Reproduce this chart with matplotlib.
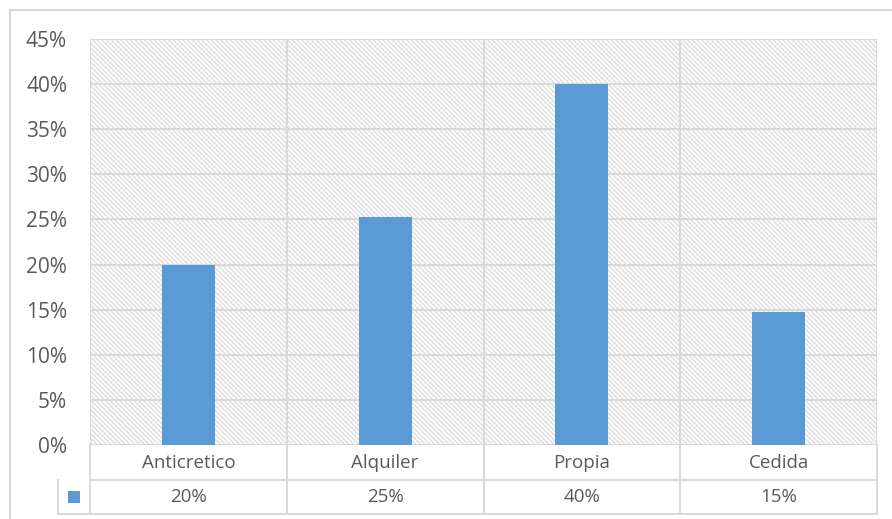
import matplotlib
matplotlib.use("Agg")
import matplotlib.pyplot as plt
from matplotlib.patches import Rectangle
from matplotlib.lines import Line2D

categories = ["Anticretico", "Alquiler", "Propia", "Cedida"]
values = [0.200, 0.253, 0.400, 0.147]
value_labels = ["20%", "25%", "40%", "15%"]
yticks = [0, 0.05, 0.10, 0.15, 0.20, 0.25, 0.30, 0.35, 0.40, 0.45]
ytick_labels = ["0%", "5%", "10%", "15%", "20%", "25%", "30%", "35%", "40%", "45%"]

BAR = "#5b9bd5"
GRID = "#d9d9d9"
TXT = "#595959"

plt.rcParams["font.family"] = ["Open Sans", "DejaVu Sans"]
plt.rcParams["hatch.linewidth"] = 1.3

W, H = 892, 519
fig = plt.figure(figsize=(W / 100, H / 100), dpi=100)

# outer chart border
fig.patches.append(Rectangle((9.5 / W, -0.01), 1.0, 1 - 10 / H + 0.01, transform=fig.transFigure,
                             fill=False, edgecolor=GRID, linewidth=1.5))

left, right, top, bottom = 90, 877, 39, 445
ax = fig.add_axes([left / W, 1 - bottom / H, (right - left) / W, (bottom - top) / H])

n = len(categories)
ax.set_xlim(-0.5, n - 0.5)
ax.set_ylim(0, 0.45)

# patterned plot area
ax.add_patch(Rectangle((0, 0), 1, 1, transform=ax.transAxes, facecolor="white",
                       edgecolor="#e3e3e3", linewidth=0, hatch="\\" * 7, zorder=0))

for y in yticks:
    ax.axhline(y, color=GRID, lw=1.4, zorder=1)
for i in range(n + 1):
    ax.axvline(i - 0.5, color=GRID, lw=1.4, zorder=1)

ax.bar(range(n), values, width=0.27, color=BAR, zorder=3)

for s in ax.spines.values():
    s.set_visible(False)
ax.set_xticks([])
ax.set_yticks(yticks)
ax.set_yticklabels(ytick_labels, fontsize=15, color=TXT)
ax.tick_params(axis="y", length=0, pad=16.5)

# data table below the axes
row1 = -35 / (bottom - top)
row2 = -69 / (bottom - top)
legx = (58 - left) / (right - left)
kw = dict(transform=ax.transAxes, color=GRID, lw=1.4, clip_on=False)
ax.add_line(Line2D([0, 1], [row1, row1], **kw))
ax.add_line(Line2D([legx, 1], [row2, row2], **kw))
ax.add_line(Line2D([legx, legx], [row1, row2], **kw))
for i in range(n + 1):
    x = i / n
    ax.add_line(Line2D([x, x], [0, row2], **kw))
for i, (c, v) in enumerate(zip(categories, value_labels)):
    x = (i + 0.5) / n
    ax.text(x, row1 / 2, c, transform=ax.transAxes, ha="center", va="center",
            fontsize=13.5, color=TXT)
    ax.text(x, (row1 + row2) / 2, v, transform=ax.transAxes, ha="center", va="center",
            fontsize=13.5, color=TXT)
ax.add_patch(Rectangle((legx / 2 - 0.0075, (row1 + row2) / 2 - 0.016), 0.015, 0.032,
                       transform=ax.transAxes, facecolor=BAR, edgecolor="none", clip_on=False))

fig.savefig("out.png", dpi=100)
